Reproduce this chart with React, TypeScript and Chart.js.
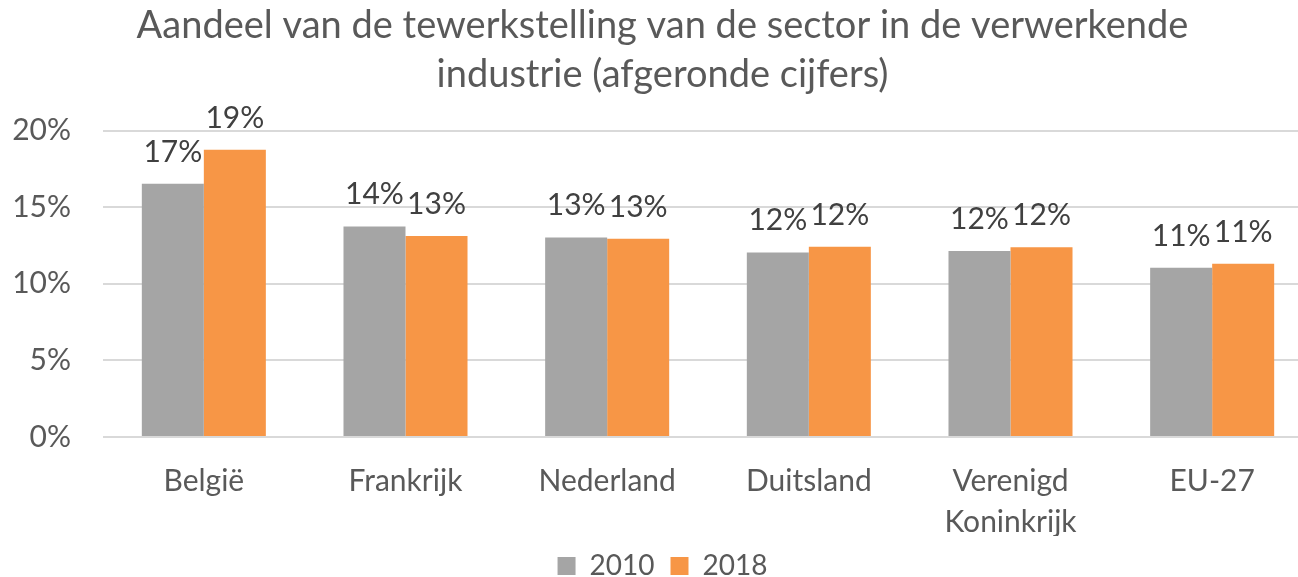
import React, { useEffect, useRef } from "react";
import { Chart, registerables } from "chart.js";

Chart.register(...registerables);

const titleLines = [
  "Aandeel van de tewerkstelling van de sector in de verwerkende",
  "industrie (afgeronde cijfers)",
];
const categories: (string | string[])[] = [
  "België",
  "Frankrijk",
  "Nederland",
  "Duitsland",
  ["Verenigd", "Koninkrijk"],
  "EU-27",
];
const seriesNames = ["2010", "2018"];
const values2010 = [16.52, 13.74, 13.02, 12.04, 12.13, 11.05];
const values2018 = [18.74, 13.11, 12.94, 12.42, 12.39, 11.31];
const yTicks = [0, 5, 10, 15, 20];

const FONT = "Lato";
const TEXT = "#595959";

const valueLabels = {
  id: "valueLabels",
  afterDatasetsDraw(chart: any) {
    const ctx = chart.ctx;
    ctx.save();
    ctx.font = `30px ${FONT}`;
    ctx.fillStyle = "#404040";
    ctx.textAlign = "center";
    ctx.textBaseline = "alphabetic";
    chart.data.datasets.forEach((ds: any, di: number) => {
      const meta = chart.getDatasetMeta(di);
      meta.data.forEach((el: any, i: number) => {
        const v = ds.data[i];
        ctx.fillText(`${Math.round(v)}%`, el.x, el.y - 22);
      });
    });
    ctx.restore();
  },
};

export default function App() {
  const ref = useRef<HTMLCanvasElement | null>(null);

  useEffect(() => {
    let chart: Chart | null = null;
    let cancelled = false;
    const make = () => {
      if (cancelled || !ref.current) return;
      chart = new Chart(ref.current, {
        type: "bar",
        data: {
          labels: categories as any,
          datasets: [
            {
              label: seriesNames[0],
              data: values2010,
              backgroundColor: "#A5A5A5",
              borderWidth: 0,
              categoryPercentage: 0.615,
              barPercentage: 1,
            },
            {
              label: seriesNames[1],
              data: values2018,
              backgroundColor: "#F79646",
              borderWidth: 0,
              categoryPercentage: 0.615,
              barPercentage: 1,
            },
          ],
        },
        options: {
          responsive: false,
          animation: false,
          devicePixelRatio: 1,
          layout: { padding: { left: 12, right: 7, top: 0, bottom: 0 } },
          plugins: {
            title: {
              display: true,
              text: titleLines,
              color: TEXT,
              font: { family: FONT, size: 38, weight: "normal", lineHeight: 1.27 },
              padding: { top: 2, bottom: 32 },
            },
            legend: {
              display: true,
              position: "bottom",
              labels: {
                color: TEXT,
                font: { family: FONT, size: 28 },
                boxWidth: 18,
                boxHeight: 18,
                padding: 16,
              },
            },
            tooltip: { enabled: false },
          },
          scales: {
            x: {
              grid: { display: false, drawTicks: false },
              border: { display: false },
              ticks: {
                color: TEXT,
                font: { family: FONT, size: 30, lineHeight: 1.39 },
                padding: 23,
                maxRotation: 0,
                autoSkip: false,
              },
              afterFit: (scale: any) => {
                scale.height = 99;
              },
            },
            y: {
              min: 0,
              max: 20,
              afterBuildTicks: (scale: any) => {
                scale.ticks = yTicks.map((v) => ({ value: v }));
              },
              grid: { color: "#D9D9D9", lineWidth: 2, drawTicks: false },
              border: { display: false },
              ticks: {
                color: TEXT,
                font: { family: FONT, size: 30 },
                padding: 32,
                callback: (v: any) => `${v}%`,
              },
              afterFit: (scale: any) => {
                scale.width = 91;
              },
            },
          },
        },
        plugins: [valueLabels],
      });
    };
    const fonts: any = (document as any).fonts;
    if (fonts && fonts.load) {
      Promise.all([fonts.load(`30px ${FONT}`), fonts.load(`38px ${FONT}`)])
        .catch(() => {})
        .then(make);
    } else {
      make();
    }
    return () => {
      cancelled = true;
      if (chart) chart.destroy();
    };
  }, []);

  return (
    <div
      style={{
        position: "fixed",
        left: 0,
        top: 0,
        width: 1298,
        height: 577,
        overflow: "hidden",
        background: "#ffffff",
      }}
    >
      <canvas ref={ref} width={1320} height={590} style={{ display: "block" }} />
    </div>
  );
}
